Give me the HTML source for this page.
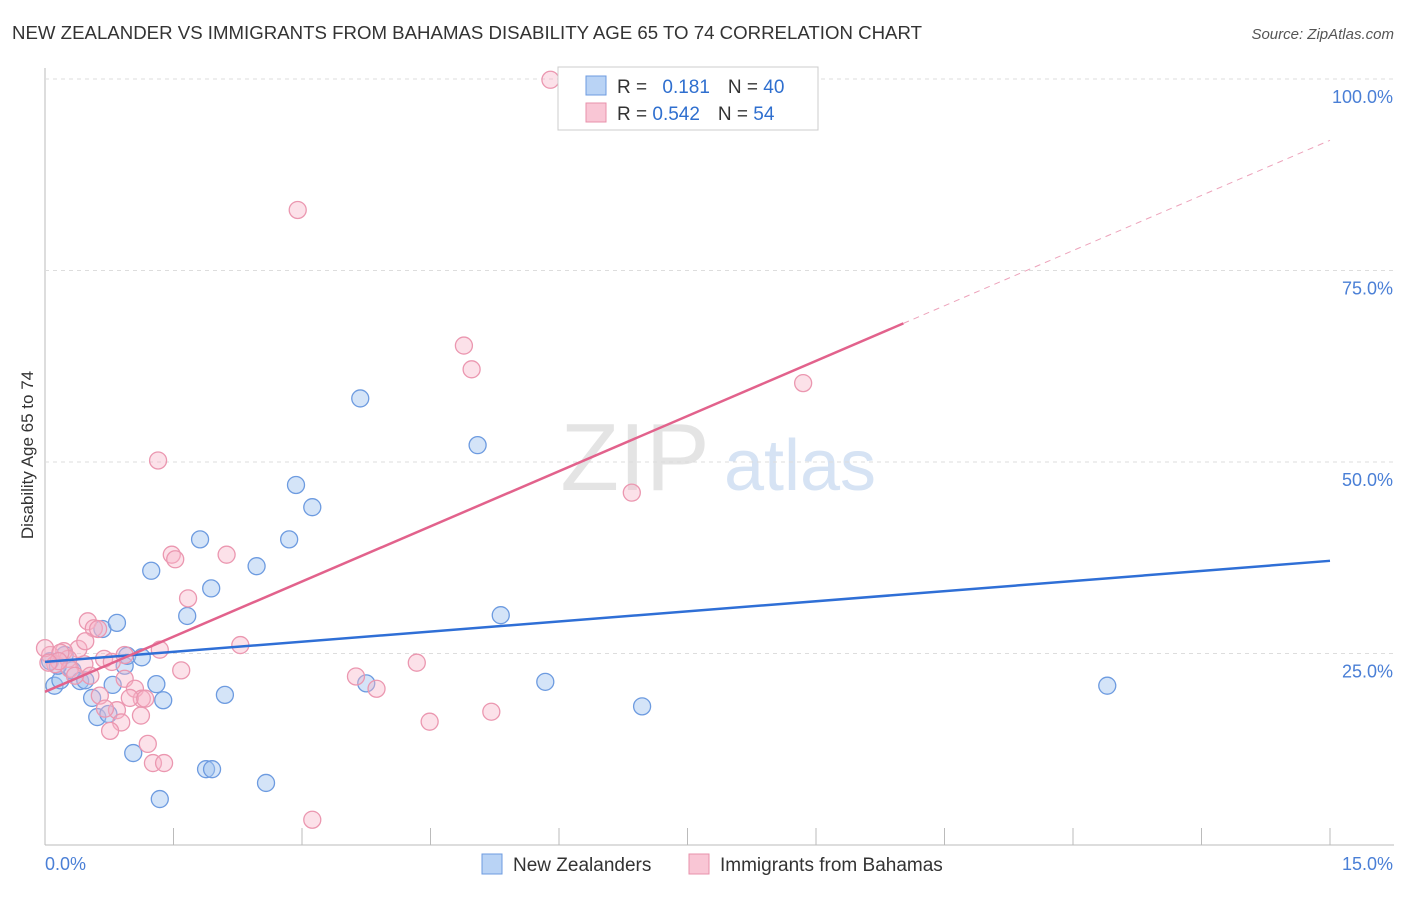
<!DOCTYPE html>
<html><head><meta charset="utf-8"><style>
body{margin:0;background:#fff;font-family:"Liberation Sans",sans-serif}
svg text{font-family:"Liberation Sans",sans-serif}
</style></head><body>
<svg id="c" width="1406" height="892" xmlns="http://www.w3.org/2000/svg">
<text x="12" y="39" font-size="18" fill="#333" textLength="910" lengthAdjust="spacingAndGlyphs">NEW ZEALANDER VS IMMIGRANTS FROM BAHAMAS DISABILITY AGE 65 TO 74 CORRELATION CHART</text>
<text x="1394" y="39" font-size="15" fill="#555" text-anchor="end" font-style="italic">Source: ZipAtlas.com</text>
<text x="33" y="455" font-size="17" fill="#333" text-anchor="middle" transform="rotate(-90 33 455)">Disability Age 65 to 74</text>
<g><text x="635" y="490" font-size="96" fill="#e4e4e4" text-anchor="middle" font-family="Liberation Serif">ZIP</text><text x="800" y="490" font-size="72" fill="#d6e3f4" text-anchor="middle">atlas</text></g>
<g id="grid"></g><g id="pts"></g><g id="lines"></g>
<g>
<rect x="558" y="67" width="260" height="63" fill="#fff" stroke="#ccc"/>
<rect x="586" y="76" width="20" height="19" fill="#b9d3f5" stroke="#6d9be0"/>
<rect x="586" y="103" width="20" height="19" fill="#f9c6d5" stroke="#e891ab"/>
<text x="617" y="93" font-size="19" fill="#333">R = <tspan fill="#2f6fcf" dx="10">0.181</tspan><tspan dx="18" fill="#333">N = </tspan><tspan fill="#2f6fcf">40</tspan></text>
<text x="617" y="120" font-size="19" fill="#333">R = <tspan fill="#2f6fcf">0.542</tspan><tspan dx="18" fill="#333">N = </tspan><tspan fill="#2f6fcf">54</tspan></text>
</g>
<g>
<rect x="482" y="854" width="20" height="20" fill="#b9d3f5" stroke="#6d9be0"/>
<text x="513" y="871" font-size="19" fill="#333">New Zealanders</text>
<rect x="689" y="854" width="20" height="20" fill="#f9c6d5" stroke="#e891ab"/>
<text x="720" y="871" font-size="19" fill="#333">Immigrants from Bahamas</text>
</g>
</svg>
<script>
const xTicks=[0,15];
const yTicks=[25,50,75,100];
const blueX=[0.11,0.18,0.23,0.32,0.41,0.47,0.55,0.61,0.67,0.74,0.79,0.84,0.93,0.96,1.03,1.13,1.24,1.30,1.34,1.38,1.66,1.81,1.88,1.95,1.94,2.10,2.47,2.58,2.85,2.93,3.12,3.68,3.75,5.05,5.32,5.84,6.97,12.40,0.06,0.15];
const blueY=[20.8,21.5,24.8,22.8,21.4,21.5,19.2,16.7,28.2,17.1,20.9,29.0,23.4,24.7,12.0,24.5,35.8,21.0,6.0,18.9,29.9,39.9,9.9,9.9,33.5,19.6,36.4,8.1,39.9,47.0,44.1,58.3,21.1,52.2,30.0,21.3,18.1,20.8,24.0,23.4];
const pinkX=[5.90,2.95,4.89,4.98,8.85,1.32,6.85,1.48,1.52,2.12,1.67,0.50,0.57,2.28,1.34,0.39,0.22,0.06,0.0,0.12,0.27,0.46,0.69,0.78,0.93,1.05,1.13,1.59,3.63,3.87,4.34,4.49,5.21,0.84,1.12,0.89,0.76,1.20,1.26,1.39,3.12,0.18,0.29,0.53,0.62,0.93,0.16,0.04,0.35,0.64,0.99,1.17,0.70,0.47];
const pinkY=[99.9,82.9,65.2,62.1,60.3,50.2,46.0,37.9,37.3,37.9,32.2,29.2,28.3,26.1,25.5,25.6,25.3,24.8,25.7,23.6,24.3,23.6,24.3,23.9,21.7,20.4,19.1,22.8,22.0,20.4,23.8,16.1,17.4,17.6,16.9,16.0,14.9,13.2,10.7,10.7,3.3,25.1,23.0,22.1,28.2,24.8,24.0,23.8,22.1,19.5,19.2,19.1,17.8,26.6];
const blueFit=[23.9,37.1];
const pinkFit=[20.0,92.0];
const pinkSolidEnd=10.02;
const X=v=>45+v/15*1285, Y=v=>845-v/100*766;
const NS='http://www.w3.org/2000/svg';
function mk(tag,attrs,parent){const e=document.createElementNS(NS,tag);for(const k in attrs)e.setAttribute(k,attrs[k]);document.getElementById(parent).appendChild(e);return e;}
let e=mk('line',{x1:45,y1:68,x2:45,y2:845,stroke:'#bbb'},'grid');


e=mk('line',{x1:45,y1:845,x2:1394,y2:845,stroke:'#bbb'},'grid');


for(let i=1;i<=10;i++){e=mk('line',{x1:45+i*128.5,y1:828,x2:45+i*128.5,y2:845,stroke:'#bbb'},'grid');

}
yTicks.forEach(t=>{e=mk('line',{x1:45,y1:Y(t),x2:1394,y2:Y(t),stroke:'#ddd','stroke-dasharray':'4,4'},'grid');


e=mk('text',{x:1393,y:Y(t)+24,'font-size':18,fill:'#4a7fd6','text-anchor':'end'},'grid');e.textContent=t.toFixed(1)+'%';

});
xTicks.forEach((t,i)=>{e=mk('text',{x:i?1393:45,y:870,'font-size':18,fill:'#4a7fd6','text-anchor':i?'end':'start'},'grid');e.textContent=t.toFixed(1)+'%';

});
blueX.forEach((x,i)=>{e=mk('circle',{cx:X(x),cy:Y(blueY[i]),r:8.5,fill:'rgba(160,195,240,0.45)',stroke:'#6d9be0','stroke-width':1.3},'pts');

});
pinkX.forEach((x,i)=>{e=mk('circle',{cx:X(x),cy:Y(pinkY[i]),r:8.5,fill:'rgba(248,180,200,0.4)',stroke:'#eb97b0','stroke-width':1.3},'pts');

});
e=mk('line',{x1:X(0),y1:Y(blueFit[0]),x2:X(15),y2:Y(blueFit[1]),stroke:'#2f6fd6','stroke-width':2.5},'lines');


const py=x=>pinkFit[0]+(pinkFit[1]-pinkFit[0])*x/15;
e=mk('line',{x1:X(0),y1:Y(py(0)),x2:X(pinkSolidEnd),y2:Y(py(pinkSolidEnd)),stroke:'#e2628c','stroke-width':2.5},'lines');


e=mk('line',{x1:X(pinkSolidEnd),y1:Y(py(pinkSolidEnd)),x2:X(15),y2:Y(py(15)),stroke:'#eda3bb','stroke-width':1,'stroke-dasharray':'6,5'},'lines');


</script>
</body></html>
